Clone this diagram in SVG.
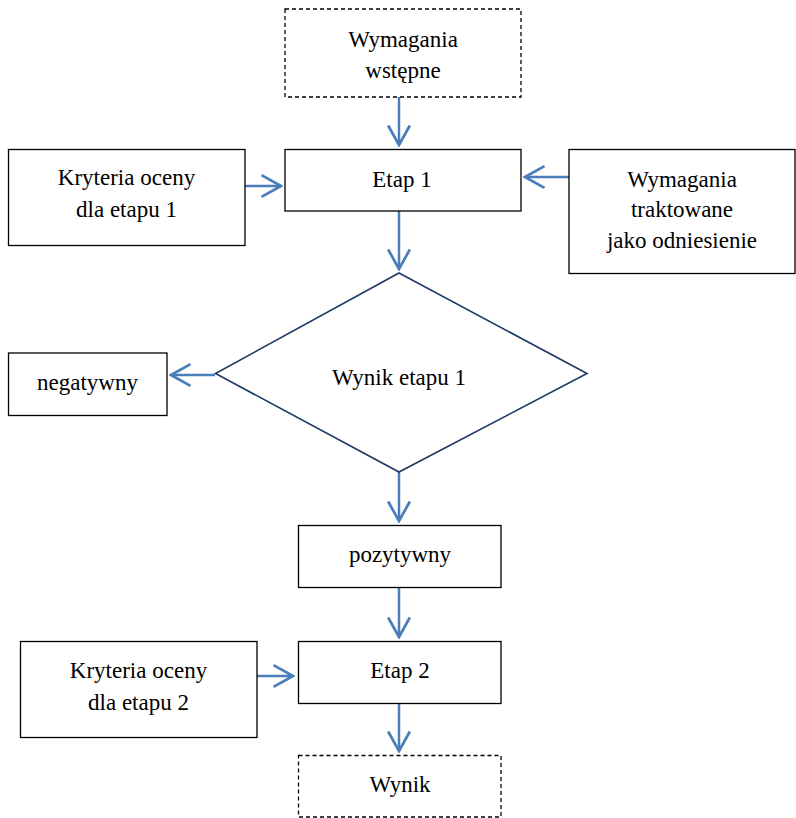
<svg xmlns="http://www.w3.org/2000/svg" width="796" height="818" viewBox="0 0 796 818">
<style>
.box{fill:#fff;stroke:#000;stroke-width:1.3}
.dash{fill:#fff;stroke:#000;stroke-width:1.3;stroke-dasharray:4 3}
.dia{fill:#fff;stroke:#1f3a60;stroke-width:1.6}
.t{font-family:"Liberation Serif","Times New Roman",serif;font-size:23px;fill:#000;text-anchor:middle}
.c{fill:none;stroke:#4a7ebb;stroke-width:2.5}
</style>
<defs>
<marker id="ah" markerUnits="userSpaceOnUse" markerWidth="24" markerHeight="26" viewBox="-20 -12 22 24" refX="0" refY="0" orient="auto">
<path d="M-18,-10 L0,0 L-18,10" fill="none" stroke="#4a7ebb" stroke-width="2.5" stroke-linejoin="miter"/>
</marker>
</defs>
<rect width="796" height="818" fill="#fff"/>
<g id="connectors">
<line class="c" x1="399" y1="97" x2="399" y2="145" marker-end="url(#ah)"/>
<line class="c" x1="245" y1="186" x2="281" y2="186" marker-end="url(#ah)"/>
<line class="c" x1="569" y1="177" x2="525" y2="177" marker-end="url(#ah)"/>
<line class="c" x1="399" y1="211" x2="399" y2="269" marker-end="url(#ah)"/>
<line class="c" x1="215" y1="375" x2="171" y2="375" marker-end="url(#ah)"/>
<line class="c" x1="399" y1="472" x2="399" y2="521" marker-end="url(#ah)"/>
<line class="c" x1="399" y1="588" x2="399" y2="637" marker-end="url(#ah)"/>
<line class="c" x1="257" y1="676" x2="293" y2="676" marker-end="url(#ah)"/>
<line class="c" x1="399" y1="704" x2="399" y2="751" marker-end="url(#ah)"/>
</g>
<g id="wymagania-wstepne">
<rect class="dash" x="285" y="9" width="236" height="88"/>
<text class="t" x="403" y="46.5">Wymagania</text>
<text class="t" x="403" y="77.5">wstępne</text>
</g>
<g id="etap1">
<rect class="box" x="285" y="149.5" width="236" height="61.5"/>
<text class="t" x="402" y="186.5">Etap 1</text>
</g>
<g id="kryteria1">
<rect class="box" x="8.5" y="149.5" width="236.5" height="96"/>
<text class="t" x="126.5" y="185">Kryteria oceny</text>
<text class="t" x="126.5" y="216.5">dla etapu 1</text>
</g>
<g id="wymagania-odniesienie">
<rect class="box" x="569" y="149.5" width="226" height="124"/>
<text class="t" x="682" y="186.5">Wymagania</text>
<text class="t" x="682" y="217">traktowane</text>
<text class="t" x="682" y="248">jako odniesienie</text>
</g>
<g id="wynik-etapu1">
<polygon class="dia" points="399,273 587,373.5 399,472 215.5,373.5"/>
<text class="t" x="399" y="385">Wynik etapu 1</text>
</g>
<g id="negatywny">
<rect class="box" x="8.5" y="353" width="158.5" height="62.5"/>
<text class="t" x="87.5" y="390">negatywny</text>
</g>
<g id="pozytywny">
<rect class="box" x="298.5" y="525.5" width="202.5" height="62"/>
<text class="t" x="400" y="561.5">pozytywny</text>
</g>
<g id="etap2">
<rect class="box" x="298.5" y="641.5" width="202.5" height="62"/>
<text class="t" x="400" y="678">Etap 2</text>
</g>
<g id="kryteria2">
<rect class="box" x="20.5" y="641.5" width="236.5" height="96"/>
<text class="t" x="138.5" y="678">Kryteria oceny</text>
<text class="t" x="138.5" y="710">dla etapu 2</text>
</g>
<g id="wynik">
<rect class="dash" x="298.5" y="755.5" width="202.5" height="61.5"/>
<text class="t" x="400" y="791.5">Wynik</text>
</g>
</svg>
